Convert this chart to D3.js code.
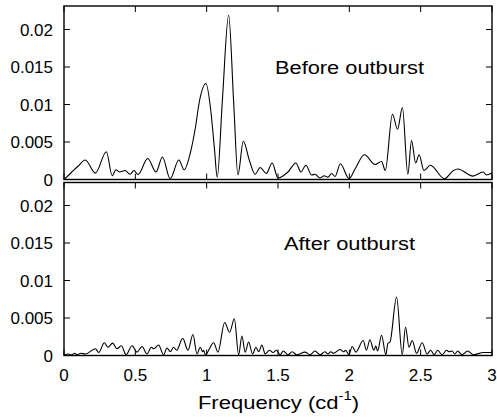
<!DOCTYPE html>
<html><head><meta charset="utf-8">
<script src="https://cdn.jsdelivr.net/npm/d3@7"></script>
<style>body{margin:0;background:#fff}svg{display:block}text{font-family:"Liberation Sans",Arial,Helvetica,sans-serif;fill:#000}</style>
</head><body>
<script>
// Frequency grid (cd^-1) and power, before outburst
const beforeFreq = [0,0.05,0.10,0.149,0.22,0.297,0.338,0.364,0.39,0.428,0.463,0.49,0.519,0.587,0.645,0.69,0.744,0.805,0.842,0.885,0.92,0.95,0.995,1.03,1.055,1.074,1.11,1.154,1.19,1.219,1.257,1.30,1.34,1.375,1.418,1.459,1.50,1.57,1.625,1.661,1.695,1.736,1.76,1.794,1.824,1.85,1.876,1.90,1.937,1.998,2.04,2.106,2.18,2.226,2.252,2.302,2.338,2.372,2.41,2.436,2.465,2.489,2.523,2.568,2.667,2.73,2.761,2.866,2.939,2.96,3.0];
const beforePower = [0,0.0009,0.0018,0.0026,0.00085,0.0037,0.0005,0.0013,0.001,0.0012,0.0007,0.0012,0.00067,0.0028,0.001,0.003,0.0001,0.0026,0.0013,0.0035,0.0068,0.0105,0.0128,0.009,0.004,0.0003,0.0105,0.0219,0.01,0.0006,0.0051,0.0025,0.0007,0.0016,0.0008,0.0022,0.0002,0.001,0.0022,0.001,0.0019,0.0006,0.0007,0.0002,0.0005,0.0003,0.0008,0.0004,0.0021,0.0001,0.0014,0.0033,0.002,0.0024,0.0012,0.0087,0.0067,0.0096,0.0007,0.0052,0.0022,0.0033,0.0012,0.0019,0.0001,0.0012,0.0014,0.00045,0.001,0.0006,0.0009];
// After outburst
const afterFreq = [0,0.03,0.05,0.075,0.09,0.12,0.15,0.22,0.243,0.283,0.308,0.341,0.371,0.402,0.435,0.477,0.512,0.547,0.582,0.612,0.63,0.663,0.698,0.722,0.745,0.768,0.79,0.832,0.869,0.904,0.932,0.955,0.972,0.98,0.99,1.049,1.079,1.126,1.161,1.194,1.224,1.247,1.27,1.294,1.322,1.345,1.365,1.387,1.41,1.44,1.465,1.49,1.515,1.537,1.57,1.60,1.63,1.689,1.725,1.759,1.795,1.829,1.85,1.87,1.89,1.934,1.96,1.975,1.997,2.02,2.046,2.097,2.12,2.144,2.172,2.186,2.198,2.226,2.256,2.27,2.285,2.331,2.371,2.394,2.418,2.441,2.471,2.511,2.545,2.57,2.595,2.619,2.65,2.682,2.70,2.72,2.74,2.759,2.79,2.829,2.87,2.94,3.0];
const afterPower = [0.0001,0.0002,0.00005,0.0003,0.0001,0.0003,0.0002,0.0009,0.0004,0.0017,0.0011,0.00165,0.0009,0.0013,0.0001,0.0013,0.00045,0.0012,0.0002,0.0011,0.0009,0.0014,0.0001,0.001,0.0005,0.0011,0.0007,0.0023,0.0007,0.0028,0.0002,0.0011,0.0005,0.0007,0.0001,0.0017,0.00045,0.0044,0.0031,0.0049,0.0001,0.0026,0.00045,0.0018,0.0002,0.0011,0.0005,0.0014,0.0002,0.0007,0.0004,0.0007,0.0001,0.0006,0.0001,0.0005,0.0001,0.00045,0.0001,0.0006,0.0001,0.0005,0.0002,0.0005,0.0003,0.0008,0.0005,0.0007,0.0001,0.0012,0.00045,0.002,0.0007,0.0021,0.0007,0.00125,0.0006,0.0027,0.0001,0.0016,0.0018,0.0078,0.0001,0.0038,0.0011,0.002,0.0003,0.0017,0.0002,0.0007,0.0001,0.0007,0.0001,0.0007,0.0005,0.0006,0.0002,0.0006,0.0001,0.0006,0.0001,0.0004,0.0004];
const xTicks = [0,0.5,1,1.5,2,2.5,3];
const xTickLabels = ["0","0.5","1","1.5","2","2.5","3"];
const yTicks = [0,0.005,0.01,0.015,0.02];
const yTickLabels = ["0","0.005","0.01","0.015","0.02"];
const panelLabels = ["Before outburst","After outburst"];

const W=497,H=418;
const svg=d3.select("body").append("svg").attr("width",W).attr("height",H);
const L=64,R=492;
const x=d3.scaleLinear().domain([0,3]).range([L,R]);
const panels=[
  {top:6,bottom:179.5,freq:beforeFreq,pow:beforePower,label:panelLabels[0],lx:275,ly:74,lw:149},
  {top:182.5,bottom:355.5,freq:afterFreq,pow:afterPower,label:panelLabels[1],lx:284,ly:250,lw:131}
];
const tl=6;
panels.forEach((p,i)=>{
  const y=d3.scaleLinear().domain([0,(p.bottom-p.top)/7500]).range([p.bottom,p.top]);
  const g=svg.append("g");
  const cid="clip"+i;
  svg.append("clipPath").attr("id",cid).append("rect").attr("x",L).attr("y",p.top).attr("width",R-L).attr("height",p.bottom-p.top);
  const data=p.freq.map((f,k)=>[f,p.pow[k]]);
  g.append("path").datum(data).attr("clip-path",`url(#${cid})`)
    .attr("d",d3.line().x(d=>x(d[0])).y(d=>y(d[1])).curve(d3.curveMonotoneX))
    .attr("fill","none").attr("stroke","#000").attr("stroke-width",1.1);
  const ax=g.append("g").attr("stroke","#000").attr("stroke-width",1);
  xTicks.forEach(t=>{
    ax.append("line").attr("x1",x(t)).attr("x2",x(t)).attr("y1",p.bottom).attr("y2",p.bottom-tl);
    ax.append("line").attr("x1",x(t)).attr("x2",x(t)).attr("y1",p.top).attr("y2",p.top+tl);
  });
  yTicks.forEach((t,k)=>{
    ax.append("line").attr("x1",L).attr("x2",L+tl).attr("y1",y(t)).attr("y2",y(t));
    ax.append("line").attr("x1",R).attr("x2",R-tl).attr("y1",y(t)).attr("y2",y(t));
    g.append("text").attr("x",53).attr("y",y(t)+6).attr("text-anchor","end").attr("font-size",17).text(yTickLabels[k]);
  });
  g.append("rect").attr("x",L).attr("y",p.top).attr("width",R-L).attr("height",p.bottom-p.top)
    .attr("fill","none").attr("stroke","#000").attr("stroke-width",1.4);
  g.append("text").attr("x",p.lx).attr("y",p.ly).attr("font-size",17.5)
    .attr("textLength",p.lw).attr("lengthAdjust","spacingAndGlyphs").text(p.label);
  if(i===1){
    xTicks.forEach((t,k)=>{
      g.append("text").attr("x",x(t)).attr("y",380.5).attr("text-anchor","middle").attr("font-size",17).text(xTickLabels[k]);
    });
  }
});
const title=svg.append("text").attr("transform","translate(278.5,408.5) scale(1.19,1)")
  .attr("text-anchor","middle").attr("font-size",18.5);
title.append("tspan").text("Frequency (cd");
title.append("tspan").attr("font-size",12.5).attr("dy",-9).text("-1");
title.append("tspan").attr("dy",9).text(")");
</script>
</body></html>
